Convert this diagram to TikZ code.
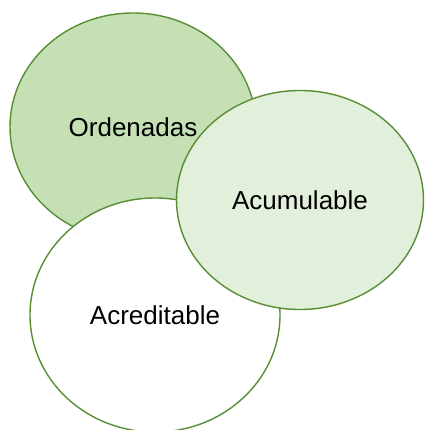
\documentclass[tikz,border=0pt]{standalone}
\usepackage{fontspec}
\setmainfont{Liberation Sans}
\usetikzlibrary{shapes.geometric}
\definecolor{rim}{RGB}{88,142,52}
\definecolor{darkleaf}{RGB}{197,224,180}
\definecolor{paleleaf}{RGB}{226,239,218}

\begin{document}
\begin{tikzpicture}[x=1pt, y=-1pt,
    set/.style={ellipse, draw=rim, line width=1.4pt, inner sep=0pt,
        font=\fontsize{26}{30}\selectfont}]
        % Frame
        \useasboundingbox (0,0) rectangle (424,430);

        % Sets, back to front
        \node (ordenadas) [set, fill=darkleaf, minimum width=246, minimum height=228] at (133,127) {Ordenadas};
        \node (acreditable) [set, fill=white, minimum width=250, minimum height=234] at (155,315) {Acreditable};
        \node (acumulable) [set, fill=paleleaf, minimum width=247, minimum height=219] at (300,200) {Acumulable};
    \end{tikzpicture}
\end{document}
